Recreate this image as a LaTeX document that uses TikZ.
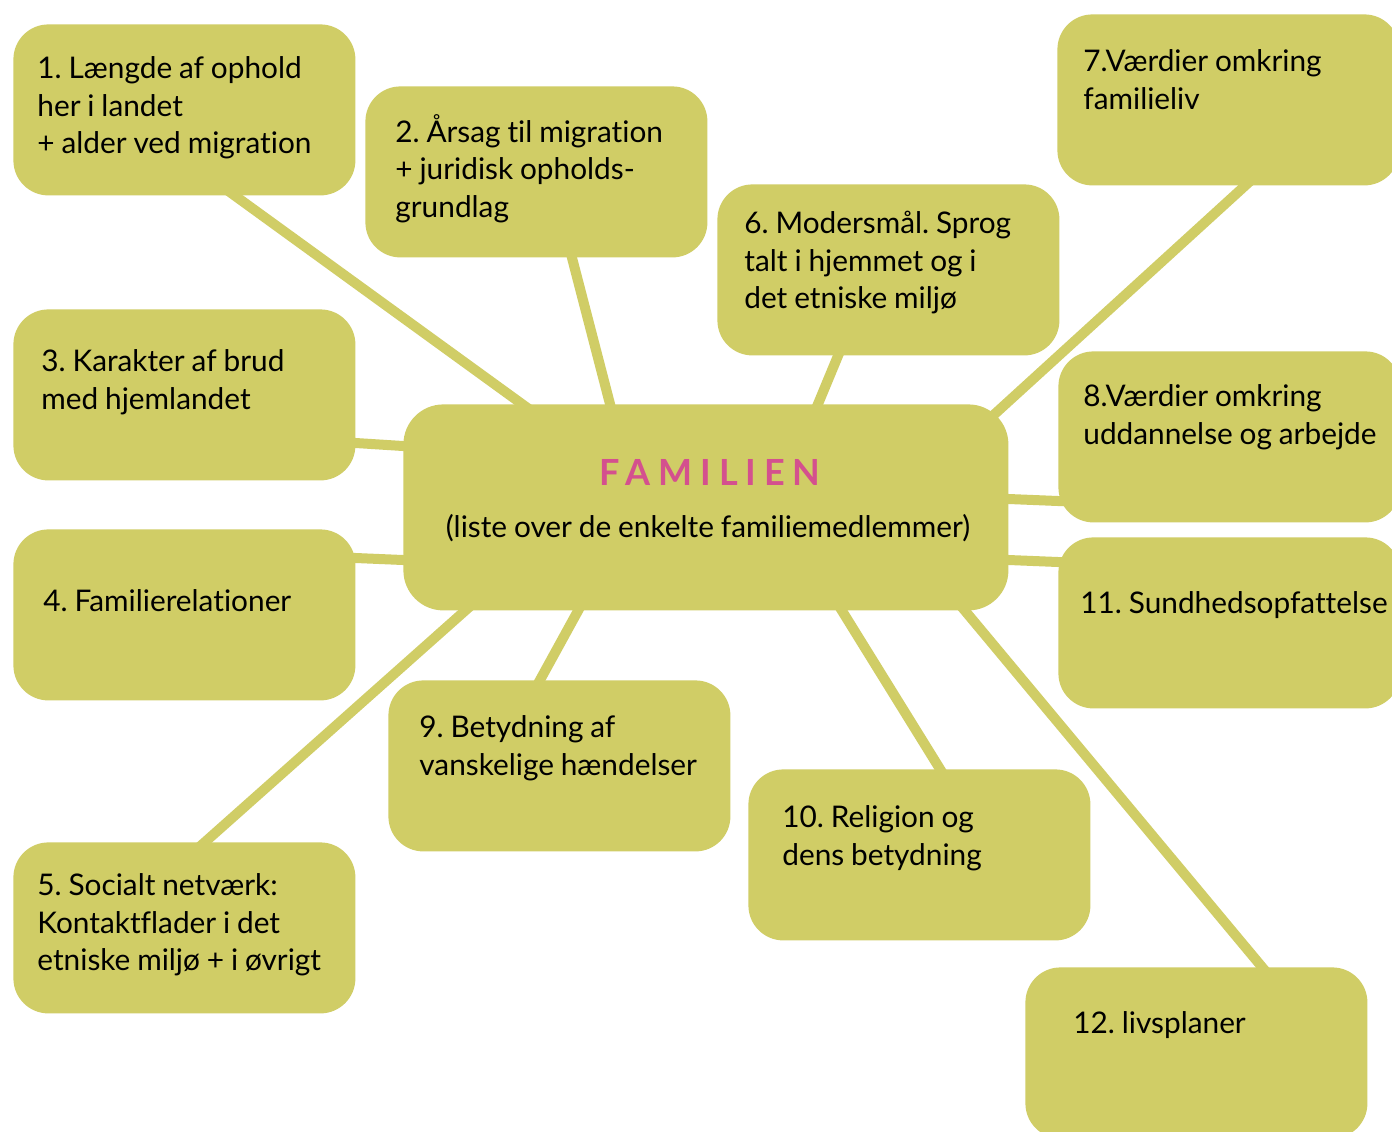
\documentclass[tikz,border=0pt]{standalone}
\usepackage{fontspec}
\setmainfont{Lato}[Ligatures={NoCommon},WordSpace=0.9]
\newfontfamily\famfont[LetterSpace=22]{Lato}
\usetikzlibrary{calc}
\definecolor{boxc}{HTML}{D0CD66}
\definecolor{famc}{HTML}{D4508E}
\pgfdeclarelayer{bg}
\pgfsetlayers{bg,main}
\frenchspacing
\begin{document}
\begin{tikzpicture}[x=0.5pt,y=-0.5pt,
  box/.style={fill=boxc, rounded corners=17.5pt, minimum width=171pt, minimum height=85.5pt, anchor=north west, inner sep=0pt},
  lbl/.style={anchor=north west, inner sep=0pt, align=left, font=\fontsize{14.9}{18.75}\selectfont\frenchspacing, text=black},
  link/.style={draw=boxc, line width=5pt, shorten <=-6pt, shorten >=-6pt}]
\useasboundingbox (0,0) rectangle (1392,1131);
% boxes
\node[box] (b1) at (13,24) {};
\node[box] (b2) at (365,86) {};
\node[box] (b6) at (717,184) {};
\node[box] (b7) at (1057,14) {};
\node[box] (b3) at (13,309) {};
\node[box, minimum width=302.5pt, minimum height=103pt, rounded corners=20pt] (c) at (403,404) {};
\node[box] (b8) at (1058,351) {};
\node[box] (b4) at (13,529) {};
\node[box] (b11) at (1058,537) {};
\node[box] (b9) at (388,680) {};
\node[box] (b10) at (748,769) {};
\node[box] (b5) at (13,842) {};
\node[box] (b12) at (1025,967) {};
% texts
\node[lbl] (t1) at (37,52) {\strut 1. Længde af ophold\\her i landet\\+ alder ved migration};
\node[lbl] (t2) at (395,114) {\strut 2. Årsag til migration\\+ juridisk opholds-\\grundlag};
\node[lbl] (t6) at (744,207) {\strut 6. Modersmål. Sprog\\talt i hjemmet og i\\det etniske miljø};
\node[lbl] (t7) at (1083,45) {\strut 7.Værdier omkring\\familieliv};
\node[lbl] (t3) at (41,345) {\strut 3. Karakter af brud\\med hjemlandet};
\node[lbl] (t8) at (1083,380) {\strut 8.Værdier omkring\\uddannelse og arbejde};
\node[lbl] (t4) at (43,585) {\strut 4. Familierelationer};
\node[lbl] (t11) at (1080,587) {\strut 11. Sundhedsopfattelse};
\node[lbl] (t9) at (419,711) {\strut 9. Betydning af\\vanskelige hændelser};
\node[lbl] (t10) at (782,801) {\strut 10. Religion og\\dens betydning};
\node[lbl] (t5) at (37,869) {\strut 5. Socialt netværk:\\Kontaktflader i det\\etniske miljø + i øvrigt};
\node[lbl] (t12) at (1073,1007) {\strut 12. livsplaner};
\node[inner sep=0pt, text=famc, font=\fontsize{18}{20}\famfont\bfseries] (fam) at (710,472) {FAMILIEN};
\node[inner sep=0pt, font=\fontsize{14.9}{18}\selectfont] (sub) at (708,528) {(liste over de enkelte familiemedlemmer)};
% connectors
\begin{pgfonlayer}{bg}
\fill[white] (0,0) rectangle (1392,1131);
\draw[link] ($(b1.south west)+(222,0)$) -- ($(c.north west)+(119,0)$);
\draw[link] ($(b2.south west)+(207,0)$) -- ($(c.north west)+(207,0)$);
\draw[link] ($(b6.south west)+(121,0)$) -- ($(c.north west)+(415,0)$);
\draw[link] ($(b7.south west)+(188,0)$) -- ($(c.north east)+(-13,9)$);
\draw[link] ($(b3.north east)+(0,134)$) -- ($(c.north west)+(0,42)$);
\draw[link] ($(c.north east)+(0,95)$) -- ($(b8.north west)+(0,150)$);
\draw[link] ($(b4.north east)+(0,29)$) -- ($(c.north west)+(0,156)$);
\draw[link] ($(c.north east)+(0,156)$) -- ($(b11.north west)+(0,25)$);
\draw[link] ($(b5.north west)+(192,0)$) -- ($(c.south west)+(62,0)$);
\draw[link] ($(b9.north west)+(152,0)$) -- ($(c.south west)+(175,0)$);
\draw[link] ($(b10.north west)+(192,0)$) -- ($(c.south west)+(439,0)$);
\draw[link] ($(b12.north west)+(237,0)$) -- ($(c.south west)+(562,0)$);
\end{pgfonlayer}
\end{tikzpicture}
\end{document}
